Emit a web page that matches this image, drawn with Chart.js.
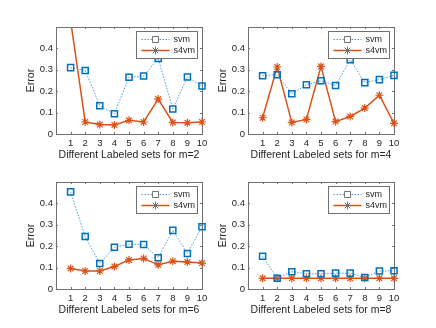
<!DOCTYPE html>
<html>
<head>
<meta charset="utf-8">
<script src="https://cdn.jsdelivr.net/npm/chart.js@4"></script>
<style>
html, body { margin: 0; padding: 0; background: #fff; }
body { width: 436px; height: 328px; position: relative; overflow: hidden; }
.panel { position: absolute; width: 218px; height: 164px; }
</style>
</head>
<body>
<div class="panel" style="left:0px;top:0px"><canvas id="m2" width="218" height="164"></canvas></div>
<div class="panel" style="left:192px;top:0px"><canvas id="m4" width="218" height="164"></canvas></div>
<div class="panel" style="left:0px;top:155px"><canvas id="m6" width="218" height="164"></canvas></div>
<div class="panel" style="left:192px;top:155px"><canvas id="m8" width="218" height="164"></canvas></div>
<script>
// labeled sets 1..10
const sets = [1, 2, 3, 4, 5, 6, 7, 8, 9, 10];
const yTicks = [0, 0.1, 0.2, 0.3, 0.4];

// error values
const svmM2  = [0.310, 0.297, 0.132, 0.095, 0.265, 0.271, 0.353, 0.117, 0.266, 0.224];
const s4vmM2 = [0.530, 0.056, 0.044, 0.042, 0.064, 0.056, 0.163, 0.054, 0.053, 0.056];
const svmM4  = [0.272, 0.277, 0.188, 0.230, 0.249, 0.227, 0.347, 0.240, 0.254, 0.274];
const s4vmM4 = [0.076, 0.313, 0.054, 0.068, 0.316, 0.058, 0.082, 0.121, 0.181, 0.050];
const svmM6  = [0.454, 0.245, 0.119, 0.195, 0.209, 0.208, 0.146, 0.274, 0.166, 0.291];
const s4vmM6 = [0.096, 0.084, 0.084, 0.105, 0.136, 0.143, 0.113, 0.130, 0.126, 0.121];
const svmM8  = [0.153, 0.050, 0.081, 0.071, 0.071, 0.074, 0.074, 0.054, 0.084, 0.085];
const s4vmM8 = [0.050, 0.050, 0.050, 0.050, 0.050, 0.050, 0.050, 0.050, 0.050, 0.050];

const blue = '#0072BD';
const blueLine = '#4a9fd8';
const orange = '#D95319';
const txt = '#262626';
const FONT = "'Liberation Sans', Arial, sans-serif";

// kotak sumbu + tick ke dalam (gaya matlab)
const framePlugin = {
    id: 'frame',
    beforeDatasetsDraw(chart) {
        const {ctx, chartArea: a, scales: {x, y}} = chart;
        ctx.save();
        ctx.strokeStyle = '#707070';
        ctx.lineWidth = 1;
        ctx.beginPath();
        x.ticks.forEach(t => {
            const px = Math.round(x.getPixelForValue(t.value)) + 0.5;
            ctx.moveTo(px, a.bottom); ctx.lineTo(px, a.bottom - 2);
            ctx.moveTo(px, a.top); ctx.lineTo(px, a.top + 2);
        });
        y.ticks.forEach(t => {
            const py = Math.round(y.getPixelForValue(t.value)) + 0.5;
            ctx.moveTo(a.left, py); ctx.lineTo(a.left + 2, py);
            ctx.moveTo(a.right, py); ctx.lineTo(a.right - 2, py);
        });
        ctx.stroke();
        ctx.strokeRect(Math.round(a.left) + 0.5, Math.round(a.top) + 0.5,
                       Math.round(a.right - a.left), Math.round(a.bottom - a.top));
        ctx.restore();
    }
};

// legenda di dalam plot, pojok kanan atas
const legendPlugin = {
    id: 'boxLegend',
    afterDraw(chart) {
        const {ctx, chartArea: a} = chart;
        const w = 61, h = 27;
        const left = Math.round(a.right - 5 - w) + 0.5;
        const top = Math.round(a.top + 4) + 0.5;
        ctx.save();
        ctx.fillStyle = '#fff';
        ctx.fillRect(left, top, w, h);
        ctx.strokeStyle = '#707070';
        ctx.lineWidth = 1;
        ctx.strokeRect(left, top, w, h);
        ctx.font = '9px ' + FONT;
        ctx.textBaseline = 'middle';
        chart.data.datasets.forEach((ds, i) => {
            const ry = top + 8 + i * 11;
            ctx.save();
            ctx.strokeStyle = ds.borderColor;
            ctx.lineWidth = ds.borderWidth;
            ctx.setLineDash(ds.borderDash || []);
            ctx.beginPath();
            ctx.moveTo(left + 5, ry);
            ctx.lineTo(left + 33, ry);
            ctx.stroke();
            ctx.restore();
            Chart.helpers.drawPoint(ctx, {
                pointStyle: ds.pointStyle,
                radius: ds.pointRadius,
                borderWidth: ds.pointBorderWidth,
                rotation: 0
            }, left + 19, ry);
            ctx.fillStyle = txt;
            ctx.fillText(ds.label, left + 37, ry + 0.5);
        });
        ctx.restore();
    }
};

function makeChart(id, m, svm, s4vm) {
    const toXY = arr => arr.map((v, i) => ({x: sets[i], y: v}));
    const clip = {left: 10, right: 10, top: 0, bottom: 10};
    new Chart(document.getElementById(id), {
        type: 'line',
        data: {
            datasets: [
                {
                    label: 'svm',
                    data: toXY(svm),
                    borderColor: blueLine,
                    borderWidth: 1,
                    borderDash: [1.5, 1.5],
                    pointStyle: 'rect',
                    pointRadius: 4.3,
                    pointBorderColor: blue,
                    pointBackgroundColor: 'rgba(0,0,0,0)',
                    pointBorderWidth: 1.5,
                    tension: 0,
                    clip: clip
                },
                {
                    label: 's4vm',
                    data: toXY(s4vm),
                    borderColor: orange,
                    borderWidth: 1.5,
                    pointStyle: 'star',
                    pointRadius: 4,
                    pointBorderColor: orange,
                    pointBackgroundColor: orange,
                    pointBorderWidth: 1.2,
                    tension: 0,
                    clip: clip
                }
            ]
        },
        options: {
            responsive: false,
            animation: false,
            devicePixelRatio: 1,
            layout: {padding: {left: 0, right: 16, top: 27, bottom: 0}},
            plugins: {legend: {display: false}, tooltip: {enabled: false}},
            scales: {
                x: {
                    type: 'linear',
                    min: 0, max: 10,
                    grid: {display: false, drawTicks: false},
                    border: {display: false},
                    afterBuildTicks: s => { s.ticks = sets.map(v => ({value: v})); },
                    afterFit: s => { s.height = 30; s.paddingLeft = 0; s.paddingRight = 0; },
                    ticks: {
                        color: txt, padding: 4, maxRotation: 0, autoSkip: false,
                        font: {family: FONT, size: 9.5},
                        callback: v => String(v)
                    },
                    title: {
                        display: true,
                        text: 'Different Labeled sets for m=' + m,
                        color: txt,
                        font: {family: FONT, size: 10.5},
                        padding: {top: 0, bottom: 3}
                    }
                },
                y: {
                    type: 'linear',
                    min: 0, max: 0.5,
                    grid: {display: false, drawTicks: false},
                    border: {display: false},
                    afterBuildTicks: s => { s.ticks = yTicks.map(v => ({value: v})); },
                    afterFit: s => { s.width = 56; s.paddingTop = 0; s.paddingBottom = 0; },
                    ticks: {
                        color: txt, padding: 3, autoSkip: false,
                        font: {family: FONT, size: 9.5},
                        callback: v => String(+v.toFixed(1))
                    },
                    title: {
                        display: true,
                        text: 'Error',
                        color: txt,
                        font: {family: FONT, size: 10.5},
                        padding: {top: 25, bottom: 0}
                    }
                }
            }
        },
        plugins: [framePlugin, legendPlugin]
    });
}

makeChart('m2', 2, svmM2, s4vmM2);
makeChart('m4', 4, svmM4, s4vmM4);
makeChart('m6', 6, svmM6, s4vmM6);
makeChart('m8', 8, svmM8, s4vmM8);
</script>
</body>
</html>
